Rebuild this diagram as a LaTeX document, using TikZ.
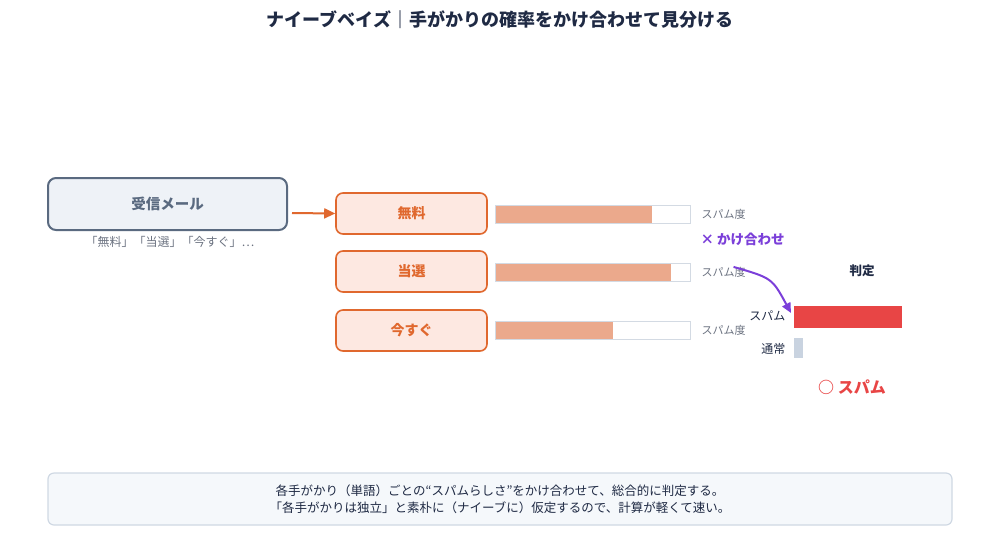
\documentclass[tikz,border=0pt]{standalone}
\usepackage{fontspec}
\setmainfont{Noto Sans CJK JP}
\usetikzlibrary{arrows.meta}
\definecolor{navy}{HTML}{1F2A44}
\definecolor{slate}{HTML}{5A6A80}
\definecolor{mailfill}{HTML}{EEF2F7}
\definecolor{org}{HTML}{E0682E}
\definecolor{orgfill}{HTML}{FDE8E1}
\definecolor{barc}{HTML}{EBA98C}
\definecolor{barline}{HTML}{D3DAE3}
\definecolor{gtxt}{HTML}{6B7280}
\definecolor{purp}{HTML}{7B3FD9}
\definecolor{spred}{HTML}{E84545}
\definecolor{norm}{HTML}{C9D3E0}
\definecolor{notefill}{HTML}{F5F8FB}
\definecolor{noteline}{HTML}{CFD8E3}
\tikzset{
 wordbox/.style={draw=org,fill=orgfill,line width=1.6pt,rounded corners=7pt,minimum width=151pt,minimum height=41pt,text=org,font=\fontsize{14}{16}\selectfont\bfseries},
 barbg/.style={draw=barline,fill=white,line width=1pt},
 barfg/.style={fill=barc},
 small/.style={text=gtxt,font=\fontsize{11}{13}\selectfont,anchor=west}
}
\begin{document}
\begin{tikzpicture}[x=1pt,y=-1pt]
\useasboundingbox (0,0) rectangle (1000,558);
\node[text=navy,font=\fontsize{18}{21}\selectfont\bfseries] (title) at (500,20) {ナイーブベイズ｜手がかりの確率をかけ合わせて見分ける};
\node[draw=slate,fill=mailfill,line width=2pt,rounded corners=8pt,minimum width=239pt,minimum height=52pt,text=slate,font=\fontsize{14.5}{16}\selectfont\bfseries] (mail) at (167.5,204) {受信メール};
\node[text=gtxt,font=\fontsize{12}{14}\selectfont] (mailsub) at (170,242) {「無料」「当選」「今すぐ」…};
\node[wordbox] (w1) at (411.5,213.5) {無料};
\node[wordbox] (w2) at (411.5,271.5) {当選};
\node[wordbox] (w3) at (411.5,330.5) {今すぐ};
\draw[org,line width=2pt,-{Triangle[length=11pt,width=10pt]}] (mail.east)+(4,9) coordinate (a0) -- (w1.west) ;
\foreach \y/\e/\n in {214/652/1,272.5/671/2,330/613/3}{
 \draw[barbg] (495,\y-9) rectangle (690,\y+9);
 \fill[barfg] (495.5,\y-8.5) rectangle (\e,\y+8.5);
 \node[small] (lab\n) at (698,\y) {スパム度};
}
\node[text=purp,font=\fontsize{13.5}{15}\selectfont\bfseries,anchor=west] (mult) at (697,239) {×\ かけ合わせ};
\node[text=navy,font=\fontsize{12.5}{14}\selectfont\bfseries] (judge) at (862,271) {判定};
\fill[spred] (794,306) rectangle (902,328);
\coordinate (spbar) at (791,313);
\fill[norm] (794,338) rectangle (803,358);
\node[text=navy,font=\fontsize{12}{13}\selectfont,anchor=east] (lsp) at (789,316) {スパム};
\node[text=navy,font=\fontsize{12}{13}\selectfont,anchor=east] (lno) at (789,349) {通常};
\draw[purp,line width=2pt,-{Triangle[length=10pt,width=9pt]}] (lab2.north)+(10,3) coordinate (c0) (c0) .. controls (772,278) .. (spbar);
\node[text=spred,font=\fontsize{16}{18}\selectfont\bfseries] (res) at (852,387) {○ スパム};
\node[draw=noteline,fill=notefill,line width=1.2pt,rounded corners=6pt,minimum width=904pt,minimum height=52pt,align=center,text=navy,font=\fontsize{12.5}{17}\selectfont] (note) at (500,499) {各手がかり（単語）ごとの“スパムらしさ”をかけ合わせて、総合的に判定する。\\「各手がかりは独立」と素朴に（ナイーブに）仮定するので、計算が軽くて速い。};
\end{tikzpicture}
\end{document}
